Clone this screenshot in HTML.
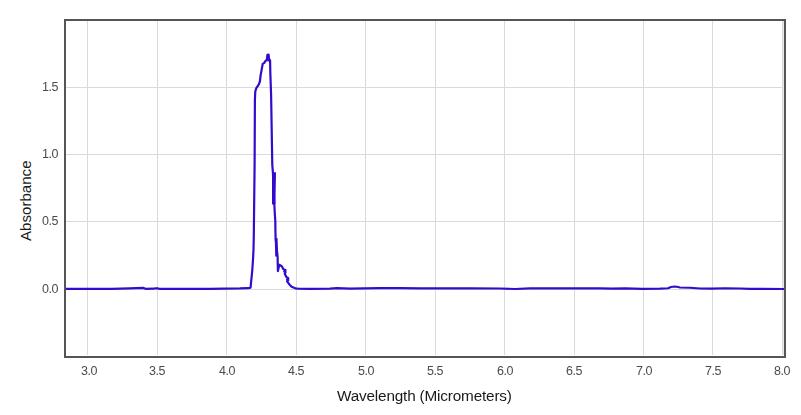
<!DOCTYPE html>
<html>
<head>
<meta charset="utf-8">
<style>
html,body{margin:0;padding:0;background:#fff;}
body{width:801px;height:415px;position:relative;overflow:hidden;font-family:"Liberation Sans",sans-serif;}
svg{position:absolute;left:0;top:0;}
.yt{position:absolute;right:743px;font-size:12.5px;color:#4b4b4b;letter-spacing:-0.45px;will-change:transform;line-height:1;white-space:nowrap;}
.xt{position:absolute;top:365px;width:40px;margin-left:-20px;text-align:center;font-size:12.5px;color:#4b4b4b;letter-spacing:-0.45px;will-change:transform;line-height:1;white-space:nowrap;}
.xtitle{will-change:transform;position:absolute;left:337px;top:388.3px;font-size:15.3px;letter-spacing:-0.17px;color:#1a1a1a;line-height:1;white-space:nowrap;}
.ytitle{position:absolute;left:18px;top:241px;transform-origin:0 0;transform:rotate(-90deg);font-size:15.1px;color:#1a1a1a;line-height:1;white-space:nowrap;}
</style>
</head>
<body>
<svg width="801" height="415" viewBox="0 0 801 415">
  <g stroke="#dadada" stroke-width="1" shape-rendering="crispEdges">
    <line x1="87.5" y1="21" x2="87.5" y2="355"/>
    <line x1="157.5" y1="21" x2="157.5" y2="355"/>
    <line x1="226.5" y1="21" x2="226.5" y2="355"/>
    <line x1="296.5" y1="21" x2="296.5" y2="355"/>
    <line x1="365.5" y1="21" x2="365.5" y2="355"/>
    <line x1="435.5" y1="21" x2="435.5" y2="355"/>
    <line x1="504.5" y1="21" x2="504.5" y2="355"/>
    <line x1="574.5" y1="21" x2="574.5" y2="355"/>
    <line x1="643.5" y1="21" x2="643.5" y2="355"/>
    <line x1="712.5" y1="21" x2="712.5" y2="355"/>
    <line x1="782.5" y1="21" x2="782.5" y2="355"/>
    <line x1="66" y1="87.5" x2="783" y2="87.5"/>
    <line x1="66" y1="154.5" x2="783" y2="154.5"/>
    <line x1="66" y1="221.5" x2="783" y2="221.5"/>
    <line x1="66" y1="289.5" x2="783" y2="289.5"/>
    <line x1="783.5" y1="21" x2="783.5" y2="355" stroke="#e8e8e8"/>
  </g>
  <g fill="#320bcc" stroke="none">
    <polygon points="272,172.3 276,172.3 275.4,204.5 272,204.5"/>
    <polygon points="274.8,238.3 277.6,238.3 277.8,256.5 275.2,256.5"/>
    <polygon points="267.4,55.4 269,55.4 269.2,61.5 267.4,61.5"/>
  </g>
  <polyline fill="none" stroke="#320bcc" stroke-width="2.2" stroke-linejoin="round" stroke-linecap="round" points="66,288.9 90,288.9 112,288.8 130,288.3 143.5,287.9 145.5,288.85 153.5,288.7 155.5,288.25 157.5,288.3 159,288.8 166,288.8 210,288.8 240,288.4 248,288.1 249.8,288 250.6,287.4 251.3,280 252.3,270 253.1,258 253.5,249.5 253.8,236 254.6,165 254.9,100 255.3,91.3 256.3,88.2 258.7,84.6 259.9,81.5 260.6,75.5 262.7,63.9 264.3,62.8 265.7,60.7 266.9,59.6 267.4,54.9 268.6,54.7 269,59 270.1,60.4 270.3,72 271.1,95 272.3,165 272.9,172.3 274.7,212 275.3,221 275.4,230 275.6,238.3 277.6,256.5 277.7,262 277.9,271.1 279.3,264.8 281.8,266.2 283.4,269.3 285.5,270 284.3,271.5 285.6,272 284.7,273.6 286.3,276.9 288.3,278.2 287,279.5 288.3,280 287.1,281.4 289.2,284.2 291.6,286.7 295.3,288.3 298,288.6 310,288.8 330,288.7 337,288.2 350,288.55 380,288.2 400,288.05 420,288.3 430,288.4 440,288.3 470,288.3 500,288.5 515,289 530,288.4 560,288.4 600,288.3 612,288.6 625,288.4 642,288.8 660,288.6 668,288.25 671,287 675,286.5 678,287 680,287.5 690,287.75 700,288.5 712,288.6 725,288.25 740,288.5 750,288.9 784,289"/>
  <rect x="65" y="20" width="720" height="337" fill="none" stroke="#555" stroke-width="2"/>
</svg>
<div class="yt" style="top:81px">1.5</div>
<div class="yt" style="top:148px">1.0</div>
<div class="yt" style="top:215px">0.5</div>
<div class="yt" style="top:283px">0.0</div>
<div class="xt" style="left:88.5px">3.0</div>
<div class="xt" style="left:157px">3.5</div>
<div class="xt" style="left:227px">4.0</div>
<div class="xt" style="left:296px">4.5</div>
<div class="xt" style="left:366.4px">5.0</div>
<div class="xt" style="left:435px">5.5</div>
<div class="xt" style="left:505px">6.0</div>
<div class="xt" style="left:574px">6.5</div>
<div class="xt" style="left:644px">7.0</div>
<div class="xt" style="left:713px">7.5</div>
<div class="xt" style="left:782px">8.0</div>
<div class="xtitle">Wavelength (Micrometers)</div>
<div class="ytitle">Absorbance</div>
</body>
</html>
